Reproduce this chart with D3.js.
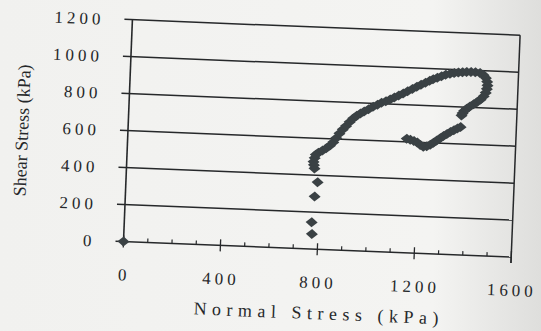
<!DOCTYPE html>
<html><head><meta charset="utf-8">
<script src="https://cdn.jsdelivr.net/npm/d3@7/dist/d3.min.js"></script>
<style>html,body{margin:0;padding:0;background:#f3f3f1;overflow:hidden;}</style>
</head><body>
<svg id="c" width="541" height="331"></svg>
<script>
// ---- data ----
const xTicks = [0, 400, 800, 1200, 1600];
const xMinorTicks = [100, 200, 300, 500, 600, 700, 900, 1000, 1100, 1300, 1400, 1500];
const yTicks = [0, 200, 400, 600, 800, 1000, 1200];
const xTitle = "Normal Stress (kPa)";
const yTitle = "Shear Stress (kPa)";

const normalStress = [
  0,
  775, 772, 780, 790, 775,
  772, 770, 774, 778, 788, 805, 820, 835, 848, 860, 872, 885, 898, 912, 926,
  940, 955, 970, 988, 1006, 1024, 1040, 1058, 1075, 1092, 1110, 1128, 1146, 1165,
  1183, 1200, 1218, 1235, 1249, 1266, 1283, 1300, 1318, 1335, 1352, 1369, 1386,
  1404, 1422, 1441, 1456, 1466, 1472, 1474, 1472, 1468, 1460, 1448, 1434, 1420,
  1405, 1392, 1382, 1376, 1372,
  1370, 1357, 1343, 1329, 1315, 1301, 1288, 1274, 1261, 1248, 1234, 1220, 1207,
  1194, 1180, 1165, 1150
];
const shearStress = [
  0,
  82, 145, 285, 362, 436,
  455, 472, 492, 510, 522, 535, 547, 563, 582, 605, 630, 652, 672, 694, 714,
  730, 743, 754, 768, 782, 794, 805, 815, 825, 836, 848, 860, 873, 886,
  899, 911, 923, 934, 943, 953, 962, 970, 977, 982, 986, 988, 990,
  991, 990, 987, 978, 962, 942, 922, 902, 882, 862, 845, 830, 817,
  804, 792, 779, 766, 754,
  692, 683, 673, 663, 651, 639, 627, 613, 600, 589, 580, 577, 586,
  598, 606, 612, 617
];

// ---- drawing ----
const ink = "#26282a";
const markColor = "#3a4144";
const svg = d3.select("#c");

const defs = svg.append("defs");
const grad = defs.append("linearGradient").attr("id", "bg").attr("x1", 0).attr("x2", 1).attr("y1", 0).attr("y2", 0);
grad.append("stop").attr("offset", "0%").attr("stop-color", "#f1f1ef");
grad.append("stop").attr("offset", "80%").attr("stop-color", "#f4f4f2");
grad.append("stop").attr("offset", "100%").attr("stop-color", "#dededc");
svg.append("rect").attr("width", 541).attr("height", 331).attr("fill", "url(#bg)");

const W = 388, H = 222;
const x = d3.scaleLinear().domain([0, 1600]).range([0, W]);
const y = d3.scaleLinear().domain([0, 1200]).range([0, -H]);

const g = svg.append("g").attr("transform", "translate(123.5,241.5) rotate(2.3)");

// gridlines + y ticks
g.selectAll("line.grid").data(yTicks).join("line")
  .attr("x1", -8).attr("x2", W)
  .attr("y1", d => y(d)).attr("y2", d => y(d))
  .attr("stroke", ink).attr("stroke-width", 1.5);

// y axis and right border
g.append("line").attr("x1", 0).attr("x2", 0).attr("y1", 4).attr("y2", y(1200))
  .attr("stroke", ink).attr("stroke-width", 1.6);
g.append("line").attr("x1", W).attr("x2", W).attr("y1", 6).attr("y2", y(1200))
  .attr("stroke", ink).attr("stroke-width", 1.5);

// x ticks
g.selectAll("line.xmaj").data(xTicks).join("line")
  .attr("x1", d => x(d)).attr("x2", d => x(d)).attr("y1", -6).attr("y2", 6)
  .attr("stroke", ink).attr("stroke-width", 1.3);
g.selectAll("line.xmin").data(xMinorTicks).join("line")
  .attr("x1", d => x(d)).attr("x2", d => x(d)).attr("y1", -4).attr("y2", 0)
  .attr("stroke", ink).attr("stroke-width", 1.2);

// tick labels
const tickFont = "'Liberation Serif', 'Times New Roman', serif";
g.selectAll("text.yl").data(yTicks).join("text")
  .attr("x", -28).attr("y", d => y(d)).attr("dy", "0.36em")
  .attr("text-anchor", "end").attr("font-family", tickFont).attr("font-size", 17)
  .attr("letter-spacing", 4).attr("fill", ink).text(d => d);
g.selectAll("text.xl").data(xTicks).join("text")
  .attr("x", d => x(d) + 2).attr("y", 39)
  .attr("text-anchor", "middle").attr("font-family", tickFont).attr("font-size", 17)
  .attr("letter-spacing", 4).attr("fill", ink).text(d => d);

// axis titles
g.append("text").attr("x", W / 2 + 4).attr("y", 70)
  .attr("text-anchor", "middle").attr("font-family", tickFont).attr("font-size", 18)
  .attr("letter-spacing", 5.5).attr("fill", ink).text(xTitle);
g.append("text").attr("transform", `translate(-106,${-H / 2 + 4}) rotate(-90)`)
  .attr("text-anchor", "middle").attr("dy", "0.35em")
  .attr("font-family", tickFont).attr("font-size", 18).attr("fill", ink).text(yTitle);

// data markers (diamonds)
const pts = normalStress.map((v, i) => [v, shearStress[i]]);
const diamond = "M0,-5L6,0L0,5L-6,0Z";
g.selectAll("path.pt").data(pts).join("path")
  .attr("d", diamond)
  .attr("transform", d => `translate(${x(d[0])},${y(d[1])})`)
  .attr("fill", markColor);
</script>
</body></html>
